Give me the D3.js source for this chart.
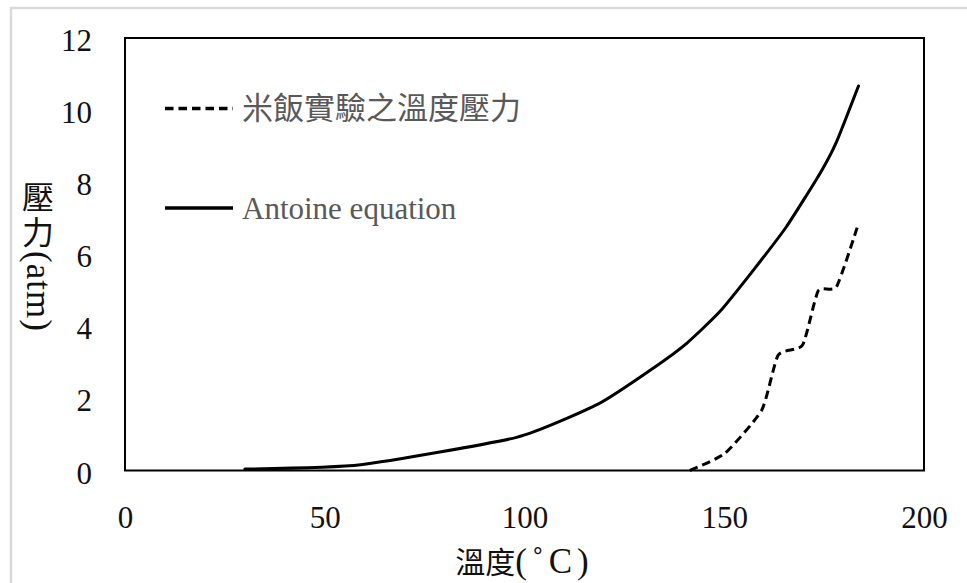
<!DOCTYPE html>
<html>
<head>
<meta charset="utf-8">
<script src="https://cdn.jsdelivr.net/npm/d3@7"></script>
<style>
  html, body { margin: 0; padding: 0; background: #fff; }
  svg { display: block; }
</style>
</head>
<body>
<script>
// Antoine equation (saturated vapour pressure of water)
const antoineT = [30, 59, 98, 118.5, 132.2, 140.6, 148.9, 157.3, 165.6, 174, 178.1, 183.6];
const antoineP = [0.04, 0.16, 0.92, 1.85, 2.84, 3.53, 4.41, 5.56, 6.77, 8.25, 9.12, 10.67];

// Measured temperature / pressure while cooking rice
const riceT = [141.4, 150.2, 159.4, 163.5, 169.6, 173.5, 178.1, 183.3];
const riceP = [0, 0.48, 1.68, 3.2, 3.48, 4.98, 5.1, 6.75];

const xTicks = [0, 50, 100, 150, 200];
const yTicks = [0, 2, 4, 6, 8, 10, 12];

const seriesNames = ["米飯實驗之溫度壓力", "Antoine equation"];
const xTitleCJK = "溫度";
const xTitleUnit = "(˚C)";
const yTitleCJK = "壓力";
const yTitleUnit = "(atm)";

const W = 967, H = 583;
const plot = { left: 125, top: 38, right: 924, bottom: 470.5 };
const latin = "'Liberation Serif', 'Times New Roman', serif";
const cjk = "'Noto Sans CJK TC', 'Noto Sans CJK SC', sans-serif";
const mixed = "'Liberation Serif', 'Noto Sans CJK TC', serif";

const svg = d3.select("body").append("svg")
  .attr("width", W).attr("height", H);

// outer chart frame
svg.append("rect")
  .attr("x", 11).attr("y", 8)
  .attr("width", W).attr("height", H)
  .attr("fill", "none").attr("stroke", "#d9d9d9").attr("stroke-width", 2.5);

const x = d3.scaleLinear().domain([0, 200]).range([plot.left, plot.right]);
const y = d3.scaleLinear().domain([0, 12]).range([plot.bottom, plot.top]);

// axis tick labels (no tick marks, the plot frame acts as axes)
const xAxis = d3.axisBottom(x).tickValues(xTicks).tickSize(0).tickPadding(0);
const gx = svg.append("g").attr("transform", `translate(0,${plot.bottom})`).call(xAxis);
gx.attr("font-family", latin).attr("font-size", 31);
gx.select(".domain").remove();
gx.selectAll("text")
  .attr("dy", null).attr("y", 57.5).attr("fill", "#111");

const yAxis = d3.axisLeft(y).tickValues(yTicks).tickSize(0).tickPadding(0);
const gy = svg.append("g").attr("transform", `translate(92,0)`).call(yAxis);
gy.attr("font-family", latin).attr("font-size", 31);
gy.select(".domain").remove();
gy.selectAll("text")
  .attr("dy", null).attr("x", 0).attr("y", 12.5).attr("fill", "#111");

// plot frame
svg.append("rect")
  .attr("x", plot.left).attr("y", plot.top)
  .attr("width", plot.right - plot.left).attr("height", plot.bottom - plot.top)
  .attr("fill", "none").attr("stroke", "#000").attr("stroke-width", 2);

const line = d3.line()
  .x(d => x(d[0])).y(d => y(d[1]))
  .curve(d3.curveCardinal.tension(0.45));

svg.append("path")
  .datum(antoineT.map((t, i) => [t, antoineP[i]]))
  .attr("d", line)
  .attr("fill", "none").attr("stroke", "#000").attr("stroke-width", 3)
  .attr("stroke-linecap", "round").attr("stroke-linejoin", "round");

svg.append("path")
  .datum(riceT.map((t, i) => [t, riceP[i]]))
  .attr("d", line)
  .attr("fill", "none").attr("stroke", "#000").attr("stroke-width", 3)
  .attr("stroke-dasharray", "8.5,5").attr("stroke-linecap", "butt");

// legend
const legend = svg.append("g");
const legendRows = [
  { name: seriesNames[0], dash: "8.5,5", cy: 108.5 },
  { name: seriesNames[1], dash: null, cy: 208 }
];
legendRows.forEach(r => {
  legend.append("line")
    .attr("x1", 165).attr("x2", 233).attr("y1", r.cy).attr("y2", r.cy)
    .attr("stroke", "#000").attr("stroke-width", 3.5)
    .attr("stroke-dasharray", r.dash);
  legend.append("text")
    .attr("x", 242).attr("y", r.cy + 10.5)
    .attr("font-family", mixed).attr("font-size", 31)
    .attr("fill", "#595959")
    .text(r.name);
});

// x axis title
const xTitle = svg.append("text")
  .attr("x", (plot.left + plot.right) / 2).attr("y", 573)
  .attr("text-anchor", "middle").attr("fill", "#111");
xTitle.append("tspan")
  .attr("font-family", cjk).attr("font-size", 30)
  .text(xTitleCJK);
xTitle.append("tspan")
  .attr("font-family", latin).attr("font-size", 35)
  .attr("letter-spacing", 5)
  .text(xTitleUnit);

// y axis title, set vertically: upright CJK, sideways unit
const yTitle = svg.append("text")
  .attr("x", 38).attr("y", 181)
  .style("writing-mode", "vertical-rl")
  .style("text-orientation", "mixed")
  .attr("fill", "#111");
yTitle.append("tspan")
  .attr("font-family", cjk).attr("font-size", 32)
  .attr("letter-spacing", 3)
  .text(yTitleCJK);
yTitle.append("tspan")
  .attr("font-family", latin).attr("font-size", 35)
  .attr("letter-spacing", 1)
  .text(yTitleUnit);
</script>
</body>
</html>
